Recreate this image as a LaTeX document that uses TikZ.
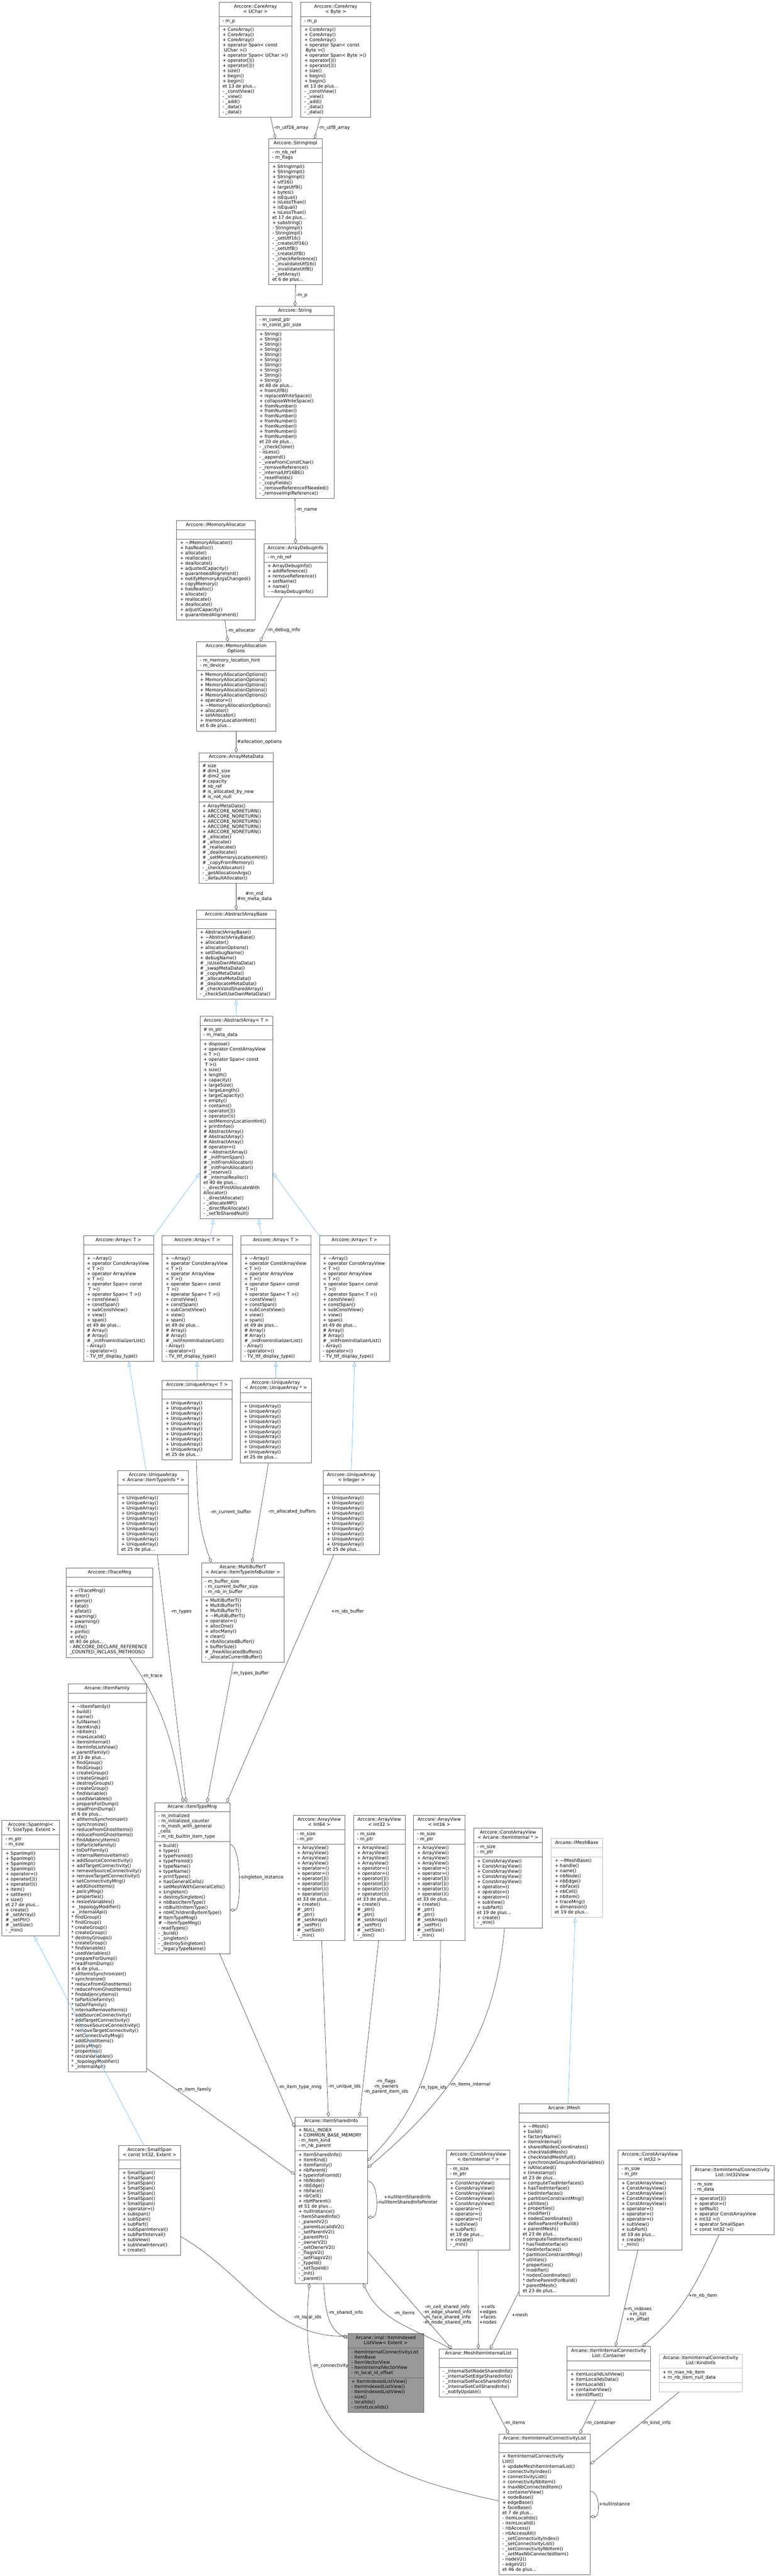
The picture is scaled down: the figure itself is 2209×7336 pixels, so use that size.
\documentclass[tikz,border=0pt]{standalone}
\usepackage{fontspec}
\setmainfont{DejaVu Sans}
\usepackage{tikz}
\usetikzlibrary{positioning, calc, arrows.meta, shapes.multipart}
\definecolor{boxline}{HTML}{666666}
\definecolor{boxlight}{HTML}{BFBFBF}
\definecolor{focusfill}{HTML}{999999}
\definecolor{edgeline}{HTML}{404040}
\definecolor{inhline}{HTML}{63B8FF}
\newcommand{\umlfont}{\fontsize{12.9pt}{14.65pt}\selectfont}
\def\bw{100pt}
\newcommand{\ct}[1]{\makebox[\bw][c]{\begin{tabular}{@{}c@{}}#1\end{tabular}}}
\newcommand{\cl}[1]{\makebox[\bw][l]{\begin{tabular}{@{}l@{}}#1\end{tabular}}}
\newcommand{\ce}{\makebox[\bw]{\strut}}
% repeated member lists
\newcommand{\arraymeth}{+ \textasciitilde Array()\\+ operator ConstArrayView\\< T >()\\+ operator ArrayView\\< T >()\\+ operator Span< const\\~T >()\\+ operator Span< T >()\\+ constView()\\+ constSpan()\\+ subConstView()\\+ view()\\+ span()\\et 49 de plus...\\\# Array()\\\# Array()\\\# \_initFromInitializerList()\\- Array()\\- operator=()\\- TV\_ttf\_display\_type()}
\newcommand{\uameth}{+ UniqueArray()\\+ UniqueArray()\\+ UniqueArray()\\+ UniqueArray()\\+ UniqueArray()\\+ UniqueArray()\\+ UniqueArray()\\+ UniqueArray()\\+ UniqueArray()\\+ UniqueArray()\\et 25 de plus...}
\newcommand{\avmeth}{+ ArrayView()\\+ ArrayView()\\+ ArrayView()\\+ ArrayView()\\+ operator=()\\+ operator=()\\+ operator[]()\\+ operator[]()\\+ operator()()\\+ operator()()\\et 33 de plus...\\+ create()\\\# \_ptr()\\\# \_ptr()\\\# \_setArray()\\\# \_setPtr()\\\# \_setSize()\\- \_min()}
\newcommand{\cavmeth}{+ ConstArrayView()\\+ ConstArrayView()\\+ ConstArrayView()\\+ ConstArrayView()\\+ ConstArrayView()\\+ operator=()\\+ operator=()\\+ operator=()\\+ subView()\\+ subPart()\\et 19 de plus...\\+ create()\\- \_min()}
\tikzset{
  bw/.code={\def\bw{#1pt}},
  umlclass/.style={draw=boxline, fill=white, line width=1pt, rectangle split, rectangle split parts=3,
    inner xsep=10pt, inner ysep=5.25pt, font=\umlfont, anchor=north west},
  umllight/.style={umlclass, draw=boxlight},
  umlfocus/.style={umlclass, fill=focusfill},
  has/.style={draw=edgeline, line width=1pt, -{Diamond[open, length=15pt, width=9pt]}},
  isa/.style={draw=inhline, line width=1pt, -{Triangle[open, length=14pt, width=10pt]}},
  lbl/.style={font=\umlfont, inner sep=2pt, align=center, text=black}
}
\begin{document}
\begin{tikzpicture}[x=1pt, y=1pt]
  \useasboundingbox (0,0) rectangle (2209,-7336);

  % strings
  \node[umlclass, bw=188] (cauchar) at (623,-6) {\ct{Arccore::CoreArray\\< UChar >}
    \nodepart{second}\cl{- m\_p}
    \nodepart{third}\cl{+ CoreArray()\\+ CoreArray()\\+ CoreArray()\\+ operator Span< const\\~UChar >()\\+ operator Span< UChar >()\\+ operator[]()\\+ operator[]()\\+ size()\\+ begin()\\+ begin()\\et 13 de plus...\\- \_constView()\\- \_view()\\- \_add()\\- \_data()\\- \_data()}};
  \node[umlclass, bw=179] (cabyte) at (856,-6) {\ct{Arccore::CoreArray\\< Byte >}
    \nodepart{second}\cl{- m\_p}
    \nodepart{third}\cl{+ CoreArray()\\+ CoreArray()\\+ CoreArray()\\+ operator Span< const\\~Byte >()\\+ operator Span< Byte >()\\+ operator[]()\\+ operator[]()\\+ size()\\+ begin()\\+ begin()\\et 13 de plus...\\- \_constView()\\- \_view()\\- \_add()\\- \_data()\\- \_data()}};
  \node[umlclass, bw=132] (strimpl) at (765,-395) {\ct{Arccore::StringImpl}
    \nodepart{second}\cl{- m\_nb\_ref\\- m\_flags}
    \nodepart{third}\cl{+ StringImpl()\\+ StringImpl()\\+ StringImpl()\\+ utf16()\\+ largeUtf8()\\+ bytes()\\+ isEqual()\\+ isLessThan()\\+ isEqual()\\+ isLessThan()\\et 17 de plus...\\+ substring()\\- StringImpl()\\- StringImpl()\\- \_setUtf16()\\- \_createUtf16()\\- \_setUtf8()\\- \_createUtf8()\\- \_checkReference()\\- \_invalidateUtf16()\\- \_invalidateUtf8()\\- \_setArray()\\et 6 de plus...}};
  \node[umlclass, bw=203] (str) at (728,-872) {\ct{Arccore::String}
    \nodepart{second}\cl{- m\_const\_ptr\\- m\_const\_ptr\_size}
    \nodepart{third}\cl{+ String()\\+ String()\\+ String()\\+ String()\\+ String()\\+ String()\\+ String()\\+ String()\\+ String()\\+ String()\\et 48 de plus...\\+ fromUtf8()\\+ replaceWhiteSpace()\\+ collapseWhiteSpace()\\+ fromNumber()\\+ fromNumber()\\+ fromNumber()\\+ fromNumber()\\+ fromNumber()\\+ fromNumber()\\+ fromNumber()\\et 20 de plus...\\- \_checkClone()\\- isLess()\\- \_append()\\- \_viewFromConstChar()\\- \_removeReference()\\- \_internalUtf16BE()\\- \_resetFields()\\- \_copyFields()\\- \_removeReferenceIfNeeded()\\- \_removeImplReference()}};

  % allocation
  \node[umlclass, bw=160] (dbginfo) at (751,-1548) {\ct{Arccore::ArrayDebugInfo}
    \nodepart{second}\cl{- m\_nb\_ref}
    \nodepart{third}\cl{+ ArrayDebugInfo()\\+ addReference()\\+ removeReference()\\+ setName()\\+ name()\\- \textasciitilde ArrayDebugInfo()}};
  \node[umlclass, bw=204] (imemalloc) at (502,-1482) {\ct{Arccore::IMemoryAllocator}
    \nodepart{second}\ce
    \nodepart{third}\cl{+ \textasciitilde IMemoryAllocator()\\+ hasRealloc()\\+ allocate()\\+ reallocate()\\+ deallocate()\\+ adjustedCapacity()\\+ guaranteedAlignment()\\+ notifyMemoryArgsChanged()\\+ copyMemory()\\+ hasRealloc()\\+ allocate()\\+ reallocate()\\+ deallocate()\\+ adjustCapacity()\\+ guaranteedAlignment()}};
  \node[umlclass, bw=206] (allocopt) at (559,-1827) {\ct{Arccore::MemoryAllocation\\Options}
    \nodepart{second}\cl{- m\_memory\_location\_hint\\- m\_device}
    \nodepart{third}\cl{+ MemoryAllocationOptions()\\+ MemoryAllocationOptions()\\+ MemoryAllocationOptions()\\+ MemoryAllocationOptions()\\+ MemoryAllocationOptions()\\+ operator=()\\+ \textasciitilde MemoryAllocationOptions()\\+ allocator()\\+ setAllocator()\\+ memoryLocationHint()\\et 6 de plus...}};
  \node[umlclass, bw=192] (metadata) at (566,-2143) {\ct{Arccore::ArrayMetaData}
    \nodepart{second}\cl{\# size\\\# dim1\_size\\\# dim2\_size\\\# capacity\\\# nb\_ref\\\# is\_allocated\_by\_new\\\# is\_not\_null}
    \nodepart{third}\cl{+ ArrayMetaData()\\+ ARCCORE\_NORETURN()\\+ ARCCORE\_NORETURN()\\+ ARCCORE\_NORETURN()\\+ ARCCORE\_NORETURN()\\+ ARCCORE\_NORETURN()\\\# \_allocate()\\\# \_allocate()\\\# \_reallocate()\\\# \_deallocate()\\\# \_setMemoryLocationHint()\\\# \_copyFromMemory()\\- \_checkAllocator()\\- \_getAllocationArgs()\\- \_defaultAllocator()}};
  \node[umlclass, bw=206] (arraybase) at (559,-2591) {\ct{Arccore::AbstractArrayBase}
    \nodepart{second}\ce
    \nodepart{third}\cl{+ AbstractArrayBase()\\+ \textasciitilde AbstractArrayBase()\\+ allocator()\\+ allocationOptions()\\+ setDebugName()\\+ debugName()\\\# \_isUseOwnMetaData()\\\# \_swapMetaData()\\\# \_copyMetaData()\\\# \_allocateMetaData()\\\# \_deallocateMetaData()\\\# \_checkValidSharedArray()\\- \_checkSetUseOwnMetaData()}};
  \node[umlclass, bw=187] (abstractarray) at (569,-2894) {\ct{Arccore::AbstractArray< T >}
    \nodepart{second}\cl{\# m\_ptr\\- m\_meta\_data}
    \nodepart{third}\cl{+ dispose()\\+ operator ConstArrayView\\< T >()\\+ operator Span< const\\~T >()\\+ size()\\+ length()\\+ capacity()\\+ largeSize()\\+ largeLength()\\+ largeCapacity()\\+ empty()\\+ contains()\\+ operator[]()\\+ operator()()\\+ setMemoryLocationHint()\\+ printInfos()\\\# AbstractArray()\\\# AbstractArray()\\\# AbstractArray()\\\# operator=()\\\# \textasciitilde AbstractArray()\\\# \_initFromSpan()\\\# \_initFromAllocator()\\\# \_initFromAllocator()\\\# \_reserve()\\\# \_internalRealloc()\\et 40 de plus...\\- \_directFirstAllocateWith\\Allocator()\\- \_directAllocate()\\- \_allocateMP()\\- \_directReAllocate()\\- \_setToSharedNull()}};

  % arrays
  \node[umlclass, bw=180] (array1) at (237,-3519) {\ct{Arccore::Array< T >}
    \nodepart{second}\ce \nodepart{third}\cl{\arraymeth}};
  \node[umlclass, bw=180] (array2) at (461,-3519) {\ct{Arccore::Array< T >}
    \nodepart{second}\ce \nodepart{third}\cl{\arraymeth}};
  \node[umlclass, bw=180] (array3) at (685,-3519) {\ct{Arccore::Array< T >}
    \nodepart{second}\ce \nodepart{third}\cl{\arraymeth}};
  \node[umlclass, bw=180] (array4) at (909,-3519) {\ct{Arccore::Array< T >}
    \nodepart{second}\ce \nodepart{third}\cl{\arraymeth}};
  \node[umlclass, bw=179] (uat) at (461,-3931) {\ct{Arccore::UniqueArray< T >}
    \nodepart{second}\ce \nodepart{third}\cl{\uameth}};
  \node[umlclass, bw=182] (uauat) at (684,-3925) {\ct{Arccore::UniqueArray\\< Arccore::UniqueArray * >}
    \nodepart{second}\ce \nodepart{third}\cl{\uameth}};
  \node[umlclass, bw=181] (uatypeinfo) at (335,-4187) {\ct{Arccore::UniqueArray\\< Arcane::ItemTypeInfo * >}
    \nodepart{second}\ce \nodepart{third}\cl{\uameth}};
  \node[umlclass, bw=140] (uainteger) at (920,-4187) {\ct{Arccore::UniqueArray\\< Integer >}
    \nodepart{second}\ce \nodepart{third}\cl{\uameth}};

  % item types
  \node[umlclass, bw=227] (tracemng) at (188,-4465) {\ct{Arccore::ITraceMng}
    \nodepart{second}\ce
    \nodepart{third}\cl{+ \textasciitilde ITraceMng()\\+ error()\\+ perror()\\+ fatal()\\+ pfatal()\\+ warning()\\+ pwarning()\\+ info()\\+ pinfo()\\+ info()\\et 40 de plus...\\- ARCCORE\_DECLARE\_REFERENCE\\\_COUNTED\_INCLASS\_METHODS()}};
  \node[umlclass, bw=216] (multibuf) at (573,-4450) {\ct{Arcane::MultiBufferT\\< Arcane::ItemTypeInfoBuilder >}
    \nodepart{second}\cl{- m\_buffer\_size\\- m\_current\_buffer\_size\\- m\_nb\_in\_buffer}
    \nodepart{third}\cl{+ MultiBufferT()\\+ MultiBufferT()\\+ MultiBufferT()\\+ \textasciitilde MultiBufferT()\\+ operator=()\\+ allocOne()\\+ allocMany()\\+ clear()\\+ nbAllocatedBuffer()\\+ bufferSize()\\\# \_freeAllocatedBuffers()\\- \_allocateCurrentBuffer()}};
  \node[umlclass, bw=203] (itemfamily) at (193,-4795) {\ct{Arcane::IItemFamily}
    \nodepart{second}\ce
    \nodepart{third}\cl{+ \textasciitilde IItemFamily()\\+ build()\\+ name()\\+ fullName()\\+ itemKind()\\+ nbItem()\\+ maxLocalId()\\+ itemsInternal()\\+ itemInfoListView()\\+ parentFamily()\\et 33 de plus...\\+ findGroup()\\+ findGroup()\\+ createGroup()\\+ createGroup()\\+ destroyGroups()\\+ createGroup()\\+ findVariable()\\+ usedVariables()\\+ prepareForDump()\\+ readFromDump()\\et 6 de plus...\\+ allItemsSynchronizer()\\+ synchronize()\\+ reduceFromGhostItems()\\+ reduceFromGhostItems()\\+ findAdjencyItems()\\+ toParticleFamily()\\+ toDoFFamily()\\+ internalRemoveItems()\\+ addSourceConnectivity()\\+ addTargetConnectivity()\\+ removeSourceConnectivity()\\+ removeTargetConnectivity()\\+ setConnectivityMng()\\+ addGhostItems()\\+ policyMng()\\+ properties()\\+ resizeVariables()\\+ \_topologyModifier()\\+ \_internalApi()\\{*} findGroup()\\{*} findGroup()\\{*} createGroup()\\{*} createGroup()\\{*} destroyGroups()\\{*} createGroup()\\{*} findVariable()\\{*} usedVariables()\\{*} prepareForDump()\\{*} readFromDump()\\et 6 de plus...\\{*} allItemsSynchronizer()\\{*} synchronize()\\{*} reduceFromGhostItems()\\{*} reduceFromGhostItems()\\{*} findAdjencyItems()\\{*} toParticleFamily()\\{*} toDoFFamily()\\{*} internalRemoveItems()\\{*} addSourceConnectivity()\\{*} addTargetConnectivity()\\{*} removeSourceConnectivity()\\{*} removeTargetConnectivity()\\{*} setConnectivityMng()\\{*} addGhostItems()\\{*} policyMng()\\{*} properties()\\{*} resizeVariables()\\{*} \_topologyModifier()\\{*} \_internalApi()}};
  \node[umlclass, bw=194] (typemng) at (440,-5133) {\ct{Arcane::ItemTypeMng}
    \nodepart{second}\cl{- m\_initialized\\- m\_initialized\_counter\\- m\_mesh\_with\_general\\\_cells\\- m\_nb\_builtin\_item\_type}
    \nodepart{third}\cl{+ build()\\+ types()\\+ typeFromId()\\+ typeFromId()\\+ typeName()\\+ typeName()\\+ printTypes()\\+ hasGeneralCells()\\+ setMeshWithGeneralCells()\\+ singleton()\\+ destroySingleton()\\+ nbBasicItemType()\\+ nbBuiltInItemType()\\+ nbHChildrenByItemType()\\\# ItemTypeMng()\\\# \textasciitilde ItemTypeMng()\\- readTypes()\\- \_build()\\- \_singleton()\\- \_destroySingleton()\\- \_legacyTypeName()}};
  \node[umlclass, bw=144] (spanimpl) at (5,-5184) {\ct{Arccore::SpanImpl<\\~T, SizeType, Extent >}
    \nodepart{second}\cl{- m\_ptr\\- m\_size}
    \nodepart{third}\cl{+ SpanImpl()\\+ SpanImpl()\\+ SpanImpl()\\+ SpanImpl()\\+ operator=()\\+ operator[]()\\+ operator()()\\+ item()\\+ setItem()\\+ size()\\et 27 de plus...\\+ create()\\\# \_setArray()\\\# \_setPtr()\\\# \_setSize()\\- \_min()}};

  % views
  \node[umlclass, bw=127] (avint64) at (835,-5169) {\ct{Arccore::ArrayView\\< Int64 >}
    \nodepart{second}\cl{- m\_size\\- m\_ptr} \nodepart{third}\cl{\avmeth}};
  \node[umlclass, bw=127] (avint32) at (1006,-5169) {\ct{Arccore::ArrayView\\< Int32 >}
    \nodepart{second}\cl{- m\_size\\- m\_ptr} \nodepart{third}\cl{\avmeth}};
  \node[umlclass, bw=126] (avint16) at (1177,-5169) {\ct{Arccore::ArrayView\\< Int16 >}
    \nodepart{second}\cl{- m\_size\\- m\_ptr} \nodepart{third}\cl{\avmeth}};
  \node[umlclass, bw=176] (cavinternalptr) at (1348,-5206) {\ct{Arccore::ConstArrayView\\< Arcane::ItemInternal * >}
    \nodepart{second}\cl{- m\_size\\- m\_ptr} \nodepart{third}\cl{\cavmeth}};
  \node[umllight, bw=126] (meshbase) at (1569,-5235) {\ct{Arcane::IMeshBase}
    \nodepart{second}\ce
    \nodepart{third}\cl{+ \textasciitilde IMeshBase()\\+ handle()\\+ name()\\+ nbNode()\\+ nbEdge()\\+ nbFace()\\+ nbCell()\\+ nbItem()\\+ traceMng()\\+ dimension()\\et 19 de plus...}};

  % shared info
  \node[umlclass, bw=187] (sharedinfo) at (839,-6028) {\ct{Arcane::ItemSharedInfo}
    \nodepart{second}\cl{+ NULL\_INDEX\\+ COMMON\_BASE\_MEMORY\\- m\_item\_kind\\- m\_nb\_parent}
    \nodepart{third}\cl{+ ItemSharedInfo()\\+ itemKind()\\+ itemFamily()\\+ nbParent()\\+ typeInfoFromId()\\+ nbNode()\\+ nbEdge()\\+ nbFace()\\+ nbCell()\\+ nbHParent()\\et 51 de plus...\\+ nullInstance()\\- ItemSharedInfo()\\- \_parentV2()\\- \_parentLocalIdV2()\\- \_setParentV2()\\- \_parentPtr()\\- \_ownerV2()\\- \_setOwnerV2()\\- \_flagsV2()\\- \_setFlagsV2()\\- \_typeId()\\- \_setTypeId()\\- \_init()\\- \_parent()}};
  \node[umlclass, bw=155] (smallspan) at (338,-6109) {\ct{Arccore::SmallSpan\\< const Int32, Extent >}
    \nodepart{second}\ce
    \nodepart{third}\cl{+ SmallSpan()\\+ SmallSpan()\\+ SmallSpan()\\+ SmallSpan()\\+ SmallSpan()\\+ SmallSpan()\\+ SmallSpan()\\+ operator=()\\+ subspan()\\+ subSpan()\\+ subPart()\\+ subSpanInterval()\\+ subPartInterval()\\+ subView()\\+ subViewInterval()\\+ create()}};
  \node[umlclass, bw=160] (cavinternal) at (1271,-6123) {\ct{Arccore::ConstArrayView\\< ItemInternal * >}
    \nodepart{second}\cl{- m\_size\\- m\_ptr} \nodepart{third}\cl{\cavmeth}};
  \node[umlclass, bw=236] (mesh) at (1478,-5991) {\ct{Arcane::IMesh}
    \nodepart{second}\ce
    \nodepart{third}\cl{+ \textasciitilde IMesh()\\+ build()\\+ factoryName()\\+ itemsInternal()\\+ sharedNodesCoordinates()\\+ checkValidMesh()\\+ checkValidMeshFull()\\+ synchronizeGroupsAndVariables()\\+ isAllocated()\\+ timestamp()\\et 23 de plus...\\+ computeTiedInterfaces()\\+ hasTiedInterface()\\+ tiedInterfaces()\\+ partitionConstraintMng()\\+ utilities()\\+ properties()\\+ modifier()\\+ nodesCoordinates()\\+ defineParentForBuild()\\+ parentMesh()\\et 23 de plus...\\{*} computeTiedInterfaces()\\{*} hasTiedInterface()\\{*} tiedInterfaces()\\{*} partitionConstraintMng()\\{*} utilities()\\{*} properties()\\{*} modifier()\\{*} nodesCoordinates()\\{*} defineParentForBuild()\\{*} parentMesh()\\et 23 de plus...}};
  \node[umlclass, bw=162] (cavint32) at (1759,-6123) {\ct{Arccore::ConstArrayView\\< Int32 >}
    \nodepart{second}\cl{- m\_size\\- m\_ptr} \nodepart{third}\cl{\cavmeth}};
  \node[umlclass, bw=217] (int32view) at (1966,-6167) {\ct{Arcane::ItemInternalConnectivity\\List::Int32View}
    \nodepart{second}\cl{- m\_size\\- m\_data}
    \nodepart{third}\cl{+ operator[]()\\+ operator=()\\+ setNull()\\+ operator ConstArrayView\\< Int32 >()\\+ operator SmallSpan\\< const Int32 >()}};

  % connectivity
  \node[umlfocus, bw=196] (listview) at (990,-6645) {\ct{Arcane::impl::ItemIndexed\\ListView< Extent >}
    \nodepart{second}\cl{- ItemInternalConnectivityList\\- ItemBase\\- ItemVectorView\\- ItemInternalVectorView\\- m\_local\_id\_offset}
    \nodepart{third}\cl{+ ItemIndexedListView()\\- ItemIndexedListView()\\- ItemIndexedListView()\\- size()\\- localIds()\\- constLocalIds()}};
  \node[umlclass, bw=203] (internallist) at (1250,-6689) {\ct{Arcane::MeshItemInternalList}
    \nodepart{second}\ce
    \nodepart{third}\cl{- \_internalSetNodeSharedInfo()\\- \_internalSetEdgeSharedInfo()\\- \_internalSetFaceSharedInfo()\\- \_internalSetCellSharedInfo()\\- \_notifyUpdate()}};
  \node[umlclass, bw=218] (container) at (1614,-6682) {\ct{Arcane::ItemInternalConnectivity\\List::Container}
    \nodepart{second}\ce
    \nodepart{third}\cl{+ itemLocalIdListView()\\+ itemLocalIdsData()\\+ itemLocalId()\\+ containerView()\\+ itemOffset()}};
  \node[umllight, bw=217] (kindinfo) at (1876,-6703) {\ct{Arcane::ItemInternalConnectivity\\List::KindInfo}
    \nodepart{second}\cl{+ m\_max\_nb\_item\\+ m\_nb\_item\_null\_data}
    \nodepart{third}\ce};
  \node[umlclass, bw=240] (connlist) at (1420,-6931) {\ct{Arcane::ItemInternalConnectivityList}
    \nodepart{second}\ce
    \nodepart{third}\cl{+ ItemInternalConnectivity\\List()\\+ updateMeshItemInternalList()\\+ connectivityIndex()\\+ connectivityList()\\+ connectivityNbItem()\\+ maxNbConnectedItem()\\+ containerView()\\+ nodeBase()\\+ edgeBase()\\+ faceBase()\\et 7 de plus...\\- itemLocalIds()\\- itemLocalId()\\- nbAccess()\\- nbAccessAll()\\- \_setConnectivityIndex()\\- \_setConnectivityList()\\- \_setConnectivityNbItem()\\- \_setMaxNbConnectedItem()\\- nodeV2()\\- edgeV2()\\et 46 de plus...}};

  % inheritance
  \draw[isa] (abstractarray.north) to (arraybase.south);
  \draw[isa] (array1.north east) to ([yshift=131pt]abstractarray.south west);
  \draw[isa] ([xshift=38pt]array2.north) to ([xshift=-65pt]abstractarray.south);
  \draw[isa] ([xshift=-41pt]array3.north) to ([xshift=63pt]abstractarray.south);
  \draw[isa] (array4.north west) to ([yshift=131pt]abstractarray.south east);
  \draw[isa] (uat.north) to (array2.south);
  \draw[isa] (uauat.north) to (array3.south);
  \draw[isa] ([xshift=-20pt]uatypeinfo.north) to ([xshift=29pt]array1.south);
  \draw[isa] (uainteger.north) to (array4.south);
  \draw[isa] ([xshift=11pt]mesh.north) to ([xshift=-5pt]meshbase.south);
  \draw[isa] ([xshift=-17pt]smallspan.north) to ([xshift=9pt]spanimpl.south);

  % members
  \draw[has] ([xshift=43pt]cauchar.south) to node[lbl, right] {-m\_utf16\_array} ([xshift=-57pt]strimpl.north);
  \draw[has] ([xshift=-44pt]cabyte.south) to node[lbl, right] {-m\_utf8\_array} ([xshift=54pt]strimpl.north);
  \draw[has] (strimpl.south) to node[lbl, right] {-m\_p} (str.north);
  \draw[has] (str.south) to node[lbl, right, pos=0.25] {-m\_name} (dbginfo.north);
  \draw[has] ([xshift=26pt]imemalloc.south) to node[lbl, right] {-m\_allocator} ([xshift=-24pt]allocopt.north);
  \draw[has] ([xshift=-38pt]dbginfo.south) to node[lbl, right, pos=0.74] {-m\_debug\_info} ([xshift=68pt]allocopt.north);
  \draw[has] (allocopt.south) to node[lbl, right] {\#allocation\_options} (metadata.north);
  \draw[has] (metadata.south) to node[lbl, right] {\#m\_md\\\#m\_meta\_data} (arraybase.north);
  \draw[has] ([xshift=-2pt]uat.south) to[out=-88, in=110] node[lbl, right=30pt] {-m\_current\_buffer} ([xshift=-90pt]multibuf.north);
  \draw[has] ([xshift=-21pt]uauat.south) to node[lbl, right=20pt, pos=0.49] {-m\_allocated\_buffers} ([xshift=26pt]multibuf.north);
  \draw[has] ([xshift=12pt]uatypeinfo.south) to node[lbl, right=17pt, pos=0.23] {-m\_types} ([xshift=-17pt]typemng.north);
  \draw[has] ([xshift=56pt]tracemng.south) to[out=-55, in=100] node[lbl, right, pos=0.13] {-m\_trace} ([xshift=-26pt]typemng.north);
  \draw[has] ([xshift=-27pt]multibuf.south) to node[lbl, right, pos=0.08] {-m\_types\_buffer} ([xshift=42pt]typemng.north);
  \draw[has] ([xshift=-50pt]uainteger.south) to node[lbl, right=60pt, pos=0.23] {+m\_ids\_buffer} ([xshift=98pt]typemng.north);
  \draw[has] ([yshift=96pt]typemng.east) to[out=0, in=0, distance=33pt] node[lbl, right] {-singleton\_instance} ([yshift=-91pt]typemng.east);
  \draw[has] ([yshift=10pt]itemfamily.south east) to node[lbl, above=26pt, pos=0.32] {-m\_item\_family} ([yshift=73pt]sharedinfo.west);
  \draw[has] ([xshift=78pt]typemng.south) to node[lbl, right, pos=0.77] {-m\_item\_type\_mng} ([yshift=-30pt]sharedinfo.north west);
  \draw[has] ([xshift=7pt]avint64.south) to node[lbl, right, pos=0.83] {-m\_unique\_ids} ([xshift=-8pt]sharedinfo.north);
  \draw[has] ([xshift=-2pt]avint32.south) to node[lbl, right, pos=0.83] {-m\_flags\\-m\_owners\\-m\_parent\_item\_ids} ([xshift=-23pt]sharedinfo.north east);
  \draw[has] ([xshift=4pt]avint16.south) to[out=-90, in=45] node[lbl, right, pos=0.63] {-m\_type\_ids} ([yshift=112pt]sharedinfo.east);
  \draw[has] ([xshift=-10pt]cavinternalptr.south) to[out=-95, in=40] node[lbl, right, pos=0.6] {-m\_items\_internal} ([yshift=92pt]sharedinfo.east);
  \draw[has] ([yshift=54pt]sharedinfo.east) to[out=0, in=0, distance=32pt] node[lbl, right] {+nullItemSharedInfo\\-nullItemSharedInfoPointer} ([yshift=-49pt]sharedinfo.east);
  \draw[has] ([yshift=-103pt]smallspan.east) to[out=-30, in=180] node[lbl, above=25pt, pos=0.8] {-m\_local\_ids} ([yshift=-8pt]listview.north west);
  \draw[has] ([xshift=-22pt]sharedinfo.south) to[out=-85, in=155] node[lbl, right, pos=0.45] {-m\_shared\_info} ([yshift=-14pt]listview.north west);
  \draw[has] ([xshift=-79pt]internallist.north) to[out=150, in=-65] node[lbl, above=25pt, pos=0.45] {-m\_items} ([xshift=91pt]sharedinfo.south);
  \draw[has] ([yshift=-147pt]sharedinfo.east) to node[lbl, right, pos=0.65] {-m\_cell\_shared\_info\\-m\_edge\_shared\_info\\-m\_face\_shared\_info\\-m\_node\_shared\_info} ([xshift=-76pt]internallist.north);
  \draw[has] (cavinternal.south) to node[lbl, right, pos=0.65] {+cells\\+edges\\+faces\\+nodes} (internallist.north);
  \draw[has] ([yshift=14pt]mesh.south west) to node[lbl, right=10pt, pos=0.41] {+mesh} ([xshift=34pt]internallist.north);
  \draw[has] ([yshift=10pt]connlist.west) to[out=168, in=-95, looseness=1.3] node[lbl, right, pos=0.78] {-m\_connectivity} ([xshift=-62pt]sharedinfo.south);
  \draw[has] ([xshift=33pt]internallist.south) to node[lbl, right, pos=0.71] {-m\_items} ([xshift=-102pt]connlist.north);
  \draw[has] ([xshift=-37pt]container.south) to node[lbl, right, pos=0.68] {-m\_container} ([xshift=100pt]connlist.north);
  \draw[has] ([xshift=-61pt]kindinfo.south) to node[lbl, right, pos=0.43] {-m\_kind\_info} ([yshift=114pt]connlist.east);
  \draw[has] ([yshift=37pt]connlist.east) to[out=0, in=0, distance=28pt] node[lbl, right] {+nullInstance} ([yshift=-35pt]connlist.east);
  \draw[has] ([xshift=-34pt]cavint32.south) to node[lbl, right, pos=0.67] {+m\_indexes\\+m\_list\\+m\_offset} ([xshift=19pt]container.north);
  \draw[has] ([xshift=-37pt]int32view.south) to[out=-115, in=40] node[lbl, right, pos=0.5] {+m\_nb\_item} ([xshift=95pt]container.north);
\end{tikzpicture}
\end{document}
